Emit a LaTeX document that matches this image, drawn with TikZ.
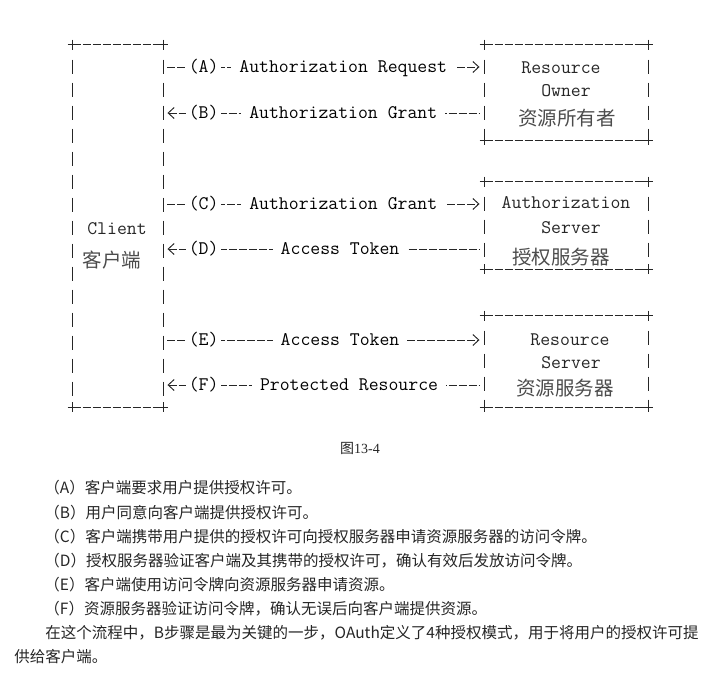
\documentclass[tikz,border=0pt]{standalone}
\usepackage{fontspec}
\usepackage{tikz}
\usetikzlibrary{arrows.meta, calc}

\setmainfont{Liberation Serif}
\newfontfamily\cjk{Noto Sans CJK SC}
\newcommand{\asciifont}{\ttfamily\fontsize{19.2}{23}\selectfont}

\tikzset{
	box/.style = {rectangle, draw = none, inner sep = 0pt},
	hline/.style = {dash pattern = on 8pt off 2pt},
	vline/.style = {dash pattern = on 14pt off 9pt},
	conn/.style = {dash pattern = on 8pt off 2pt, shorten < = 4pt, shorten > = 5pt},
	lbl/.style = {fill = white, inner xsep = 8pt, inner ysep = 1pt, font = \asciifont,
		text height = 13pt, text depth = 3pt},
	tag/.style = {lbl, inner xsep = 3pt},
	boxtxt/.style = {font = \asciifont, text = black!85, text height = 13pt, text depth = 3pt},
	boxcjk/.style = {font = {\cjk\fontsize{19.5}{22}\selectfont}, text = black!70},
	body/.style = {anchor = west, inner sep = 0pt, text = black!85,
		font = {\cjk\fontsize{15.5}{18}\selectfont}},
}

% frame of +---+ and | characters round a box node
\newcommand{\asciiframe}[1]{%
	\draw[hline] (#1.north west) -- (#1.north east);
	\draw[hline] (#1.south west) -- (#1.south east);
	\draw[vline] ([yshift = -15pt]#1.north west) -- (#1.south west);
	\draw[vline] ([yshift = -15pt]#1.north east) -- (#1.south east);
	\foreach \c in {north west, north east, south west, south east} {
		\draw (#1.\c) ++(0,-5) -- ++(0,10);
		\draw (#1.\c) ++(-5,0) -- ++(10,0);
	}
}

\begin{document}
\begin{tikzpicture}[x = 1pt, y = -1pt, line width = 0.95pt, draw = black!85,
		>={Straight Barb[length = 6pt, width = 11pt]}]
	\useasboundingbox (0,0) rectangle (727,673);
	
	% boxes
	\node[box, minimum width = 90pt, minimum height = 362pt] (client) at (118,226) {};
	\node[box, minimum width = 163pt, minimum height = 95pt] (owner) at (566.5,92.5) {};
	\node[box, minimum width = 163pt, minimum height = 87pt] (authsrv) at (566.5,225.5) {};
	\node[box, minimum width = 163pt, minimum height = 91pt] (ressrv) at (566.5,361.5) {};
	
	\foreach \b in {client, owner, authsrv, ressrv}
		\asciiframe{\b};
	
	\node[boxtxt] (clientEn) at (117,229) {Client};
	\node[boxcjk] (clientCn) at (112,260) {客户端};
	
	\node[boxtxt] (ownerEn1) at (561,68) {Resource};
	\node[boxtxt] (ownerEn2) at (566,91) {Owner};
	\node[boxcjk] (ownerCn) at (567,118) {资源所有者};
	
	\node[boxtxt] (authEn1) at (566,203) {Authorization};
	\node[boxtxt] (authEn2) at (571,228) {Server};
	\node[boxcjk] (authCn) at (561,257) {授权服务器};
	
	\node[boxtxt] (resEn1) at (570,340) {Resource};
	\node[boxtxt] (resEn2) at (571,363) {Server};
	\node[boxcjk] (resCn) at (565,388) {资源服务器};
	
	% the six steps
	\begin{scope}[conn]
	\draw[->] (client.east |- 0,67) -- (owner.west |- 0,67)
		node[tag, pos = .125] (tagA) {(A)} node[lbl, pos = .56] (msgA) {Authorization Request};
	\draw[<-] (client.east |- 0,113) -- (owner.west |- 0,113)
		node[tag, pos = .125] (tagB) {(B)} node[lbl, pos = .56] (msgB) {Authorization Grant};
	\draw[->] (client.east |- 0,204) -- (authsrv.west |- 0,204)
		node[tag, pos = .125] (tagC) {(C)} node[lbl, pos = .56] (msgC) {Authorization Grant};
	\draw[<-] (client.east |- 0,249) -- (authsrv.west |- 0,249)
		node[tag, pos = .125] (tagD) {(D)} node[lbl, pos = .55] (msgD) {Access Token};
	\draw[->] (client.east |- 0,340) -- (ressrv.west |- 0,340)
		node[tag, pos = .125] (tagE) {(E)} node[lbl, pos = .55] (msgE) {Access Token};
	\draw[<-] (client.east |- 0,385) -- (ressrv.west |- 0,385)
		node[tag, pos = .125] (tagF) {(F)} node[lbl, pos = .578] (msgF) {Protected Resource};
	\end{scope}
	
	\node[text = black!85, font = \fontsize{14}{16}\selectfont] (caption) at (360,448) {{\cjk 图}13-4};
	
	\foreach \t [count = \i from 0] in {%
			（A）客户端要求用户提供授权许可。,
			（B）用户同意向客户端提供授权许可。,
			（C）客户端携带用户提供的授权许可向授权服务器申请资源服务器的访问令牌。,
			（D）授权服务器验证客户端及其携带的授权许可，确认有效后发放访问令牌。,
			（E）客户端使用访问令牌向资源服务器申请资源。,
			（F）资源服务器验证访问令牌，确认无误后向客户端提供资源。}
		\node[body] (step\i) at (44, 488 + 24.2*\i) {\t};
	
	\node[body] (para1) at (45,633) {在这个流程中，B步骤是最为关键的一步，OAuth定义了4种授权模式，用于将用户的授权许可提};
	\node[body] (para2) at (14,657) {供给客户端。};
\end{tikzpicture}
\end{document}
